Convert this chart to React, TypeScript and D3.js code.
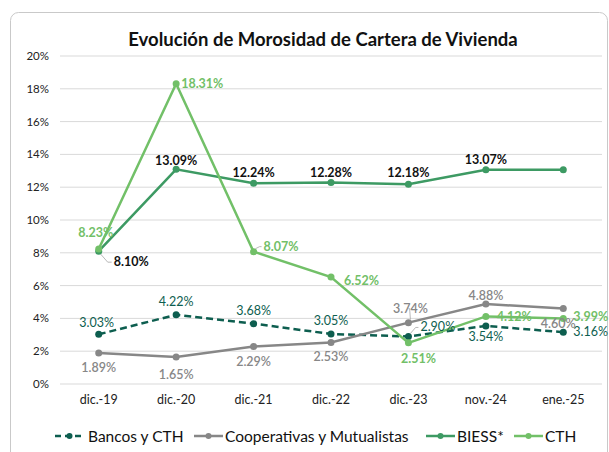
import React from 'react';
import * as d3 from 'd3';

const categories = ['dic.-19', 'dic.-20', 'dic.-21', 'dic.-22', 'dic.-23', 'nov.-24', 'ene.-25'];
const bancosValues = [3.03, 4.22, 3.68, 3.05, 2.90, 3.54, 3.16];
const coopValues = [1.89, 1.65, 2.29, 2.53, 3.74, 4.88, 4.60];
const biessValues = [8.10, 13.09, 12.24, 12.28, 12.18, 13.07, 13.07];
const cthValues = [8.23, 18.31, 8.07, 6.52, 2.51, 4.12, 3.99];
const yTicks = [0, 2, 4, 6, 8, 10, 12, 14, 16, 18, 20];
const showLabel = [true, true, true, true, true, true, false];

const FONT = 'Lato, "Open Sans", sans-serif';

// label placement per point: [dx, dy, anchor, leader]
type Place = [number, number, string, boolean?];
const series = [
  {
    name: 'Bancos y CTH', values: bancosValues, color: '#0d5e4f', dash: '7,4', labelColor: '#0d5e4f', weight: 400,
    show: [true, true, true, true, true, true, true],
    place: [[-2, -7, 'middle'], [0, -9, 'middle'], [0, -9, 'middle'], [0, -9, 'middle'], [12, -5, 'start', true], [0, 15, 'middle'], [10, 4, 'start']] as Place[],
  },
  {
    name: 'Cooperativas y Mutualistas', values: coopValues, color: '#878787', dash: null, labelColor: '#878787', weight: 600,
    show: [true, true, true, true, true, true, true],
    place: [[0, 19, 'middle'], [0, 22, 'middle'], [0, 20, 'middle'], [0, 18, 'middle'], [2, -10, 'middle', true], [0, -4, 'middle'], [-5, 19, 'middle']] as Place[],
  },
  {
    name: 'BIESS*', values: biessValues, color: '#3d9a63', dash: null, labelColor: '#111', weight: 700,
    show: showLabel,
    place: [[15, 15, 'start', true], [0, -4, 'middle'], [0, -6, 'middle'], [0, -6, 'middle'], [0, -7, 'middle'], [0, -6, 'middle'], [0, -6, 'middle']] as Place[],
  },
  {
    name: 'CTH', values: cthValues, color: '#72c068', dash: null, labelColor: '#72c068', weight: 700,
    show: [true, true, true, true, true, true, true],
    place: [[-3, -12, 'middle'], [5, 4, 'start'], [10, -1, 'start', true], [13, 8, 'start'], [10, 20, 'middle'], [11, 5, 'start'], [10, 2, 'start']] as Place[],
  },
];

const legendX = [55, 194, 426, 514];

export default function App() {
  const x = d3.scaleBand<string>().domain(categories).range([60, 602]);
  const y = d3.scaleLinear().domain([0, 20]).range([384, 56]);
  const cx = (c: string) => (x(c) as number) + x.bandwidth() / 2;

  const line = d3.line<number>()
    .x((_, i) => cx(categories[i]))
    .y(d => y(d));

  return (
    <div style={{ position: 'absolute', left: 0, top: 0 }}>
      <svg width={609} height={452} style={{ display: 'block', fontFamily: FONT }}>
        <rect x={0} y={0} width={609} height={452} fill="#fff" />
        <rect x={10.5} y={12.5} width={597} height={470} rx={8} fill="#fff" stroke="#c9c9c9" />
        <text x={323} y={46} textAnchor="middle" fontSize={18.5} fontWeight={700} fill="#111">
          Evolución de Morosidad de Cartera de Vivienda
        </text>
        {yTicks.map(t => (
          <g key={t}>
            <line x1={60} x2={602} y1={y(t)} y2={y(t)} stroke="#d9d9d9" strokeWidth={1} />
            <text x={49} y={y(t) + 4} textAnchor="end" fontSize={11.5} fill="#222">{t}%</text>
          </g>
        ))}
        {categories.map(c => (
          <text key={c} x={cx(c)} y={404} textAnchor="middle" fontSize={12.5} fill="#222">{c}</text>
        ))}
        {series.map(s => (
          <g key={s.name}>
            <path d={line(s.values) || ''} fill="none" stroke={s.color} strokeWidth={2.5}
              strokeDasharray={s.dash || undefined} />
            {s.values.map((v, i) => (
              <circle key={i} cx={cx(categories[i])} cy={y(v)} r={3.5} fill={s.color} />
            ))}
          </g>
        ))}
        {series.map(s => (
          <g key={s.name + '-lbl'}>
            {s.values.map((v, i) => {
              if (!s.show[i]) return null;
              const [dx, dy, anchor, leader] = s.place[i];
              const px = cx(categories[i]);
              const py = y(v);
              return (
                <g key={i}>
                  {leader && (
                    <polyline
                      points={`${px + 2},${py + (dy > 0 ? 3 : -3)} ${px + dx * 0.6},${py + dy - 4} ${px + dx - 2},${py + dy - 4}`}
                      fill="none" stroke="#a6a6a6" strokeWidth={0.8} />
                  )}
                  <text x={px + dx} y={py + dy} textAnchor={anchor} fontSize={12.5}
                    fontWeight={s.weight} fill={s.labelColor}>
                    {v.toFixed(2)}%
                  </text>
                </g>
              );
            })}
          </g>
        ))}
        {series.map((s, k) => (
          <g key={s.name + '-leg'} transform={`translate(${legendX[k]},436)`}>
            <line x1={0} x2={29} y1={0} y2={0} stroke={s.color} strokeWidth={2.5}
              strokeDasharray={s.dash ? '6,4' : undefined} />
            <circle cx={14.5} cy={0} r={3} fill={s.color} />
            <text x={k === 0 ? 33 : 31} y={5.5} fontSize={15.5} fill="#111">{s.name}</text>
          </g>
        ))}
      </svg>
    </div>
  );
}
